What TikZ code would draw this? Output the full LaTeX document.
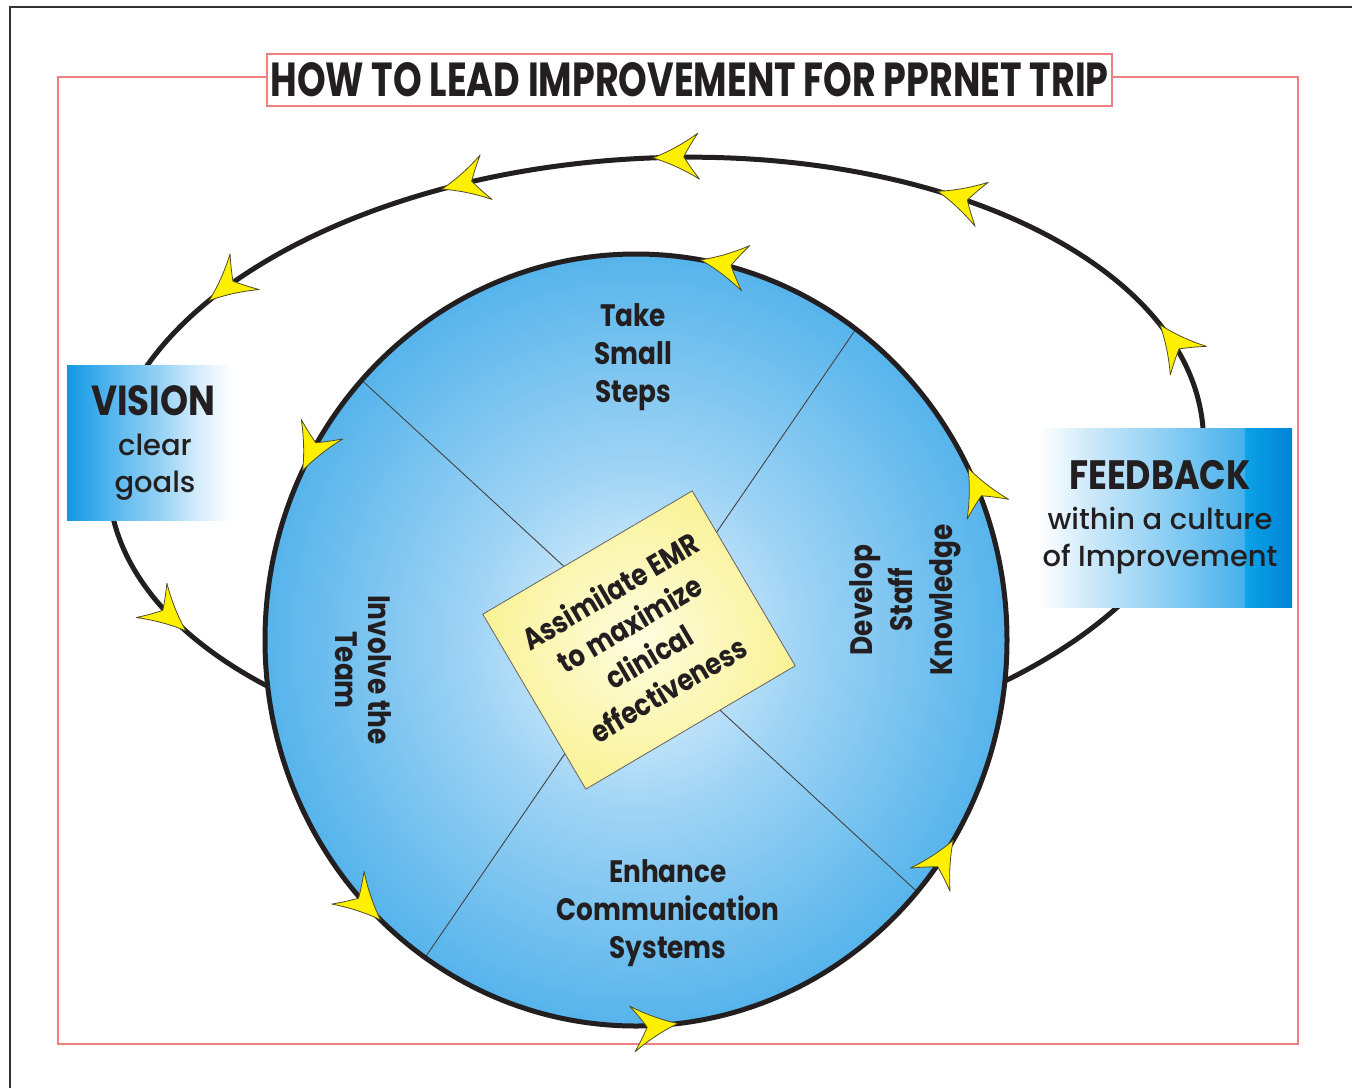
\documentclass[tikz,border=0pt]{standalone}
\usepackage{graphicx}
\usepackage{fontspec}
\setmainfont{Poppins}
\newfontfamily\labfont[FakeStretch=0.85]{Poppins}
\newfontfamily\subfont{Poppins Medium}

\definecolor{ink}{RGB}{35,31,32}
\definecolor{framered}{RGB}{238,128,128}
\definecolor{arrowyellow}{RGB}{255,240,0}
\definecolor{arrowedge}{RGB}{80,76,40}
\definecolor{discin}{RGB}{234,246,254}
\definecolor{discmid}{RGB}{160,212,245}
\definecolor{discout}{RGB}{86,180,235}
\definecolor{notein}{RGB}{255,253,224}
\definecolor{noteout}{RGB}{249,242,150}
\definecolor{visA}{RGB}{18,152,226}
\definecolor{visB}{RGB}{80,180,238}
\definecolor{visC}{RGB}{150,210,245}
\definecolor{visD}{RGB}{214,237,251}
\definecolor{fbA}{RGB}{198,230,249}
\definecolor{fbB}{RGB}{143,208,244}
\definecolor{fbC}{RGB}{72,176,234}
\definecolor{fbD}{RGB}{10,162,230}
\definecolor{fbE}{RGB}{0,132,216}

% light centre fading to saturated blue at the rim
\pgfdeclareradialshading{discshade}{\pgfpoint{0bp}{0bp}}{color(0bp)=(discin); color(11bp)=(discmid); color(25bp)=(discout); color(50bp)=(discout)}
\pgfdeclareradialshading{noteshade}{\pgfpoint{0bp}{0bp}}{color(0bp)=(notein); color(25bp)=(noteout); color(50bp)=(noteout)}
\pgfdeclarehorizontalshading{visionshade}{100bp}{color(0bp)=(visA); color(25bp)=(visA); color(37bp)=(visB); color(52bp)=(visC); color(63bp)=(visD); color(73bp)=(white); color(100bp)=(white)}
\pgfdeclarehorizontalshading{feedshade}{100bp}{color(0bp)=(white); color(28bp)=(white); color(39bp)=(fbA); color(51bp)=(fbB); color(66bp)=(fbC); color(66.4bp)=(fbD); color(75bp)=(fbE); color(100bp)=(fbE)}

\begin{document}
\begin{tikzpicture}[x=1pt,y=-1pt,
  frameline/.style={draw=black!80, line width=2pt},
  redline/.style={draw=framered, line width=1.4pt},
  loopline/.style={draw=ink, line width=5pt},
  rimline/.style={draw=ink, line width=5pt},
  divider/.style={draw=ink!85, line width=0.9pt},
  flowtip/.pic={\path[fill=arrowyellow, draw=arrowedge, line width=0.8pt, line join=round]
     (0,0) .. controls (-18,6) and (-34,15) .. (-46,23)
     .. controls (-38,12) and (-34,5) .. (-31,0)
     .. controls (-34,-5) and (-38,-12) .. (-46,-23)
     .. controls (-34,-15) and (-18,-6) .. (0,0) -- cycle;},
  seglabel/.style={text=ink, align=center, inner sep=0pt, font=\labfont\bfseries\fontsize{31}{38}\selectfont},
  boxtitle/.style={text=ink, inner sep=0pt, font=\labfont\bfseries\fontsize{42}{48}\selectfont},
  boxtext/.style={text=ink, align=center, inner sep=0pt, font=\subfont\fontsize{29}{37}\selectfont},
]
\useasboundingbox (0,0) rectangle (1352,1088);

% page frame
\draw[frameline] (10,1088) -- (10,7) -- (1352,7);

% red frame with the title box set into its top edge
\draw[redline] (58,77) rectangle (1298,1044);
\node[draw=framered, fill=white, line width=1.4pt, minimum width=845, minimum height=52, inner sep=0pt] (titlebox) at (689.5,80) {};
\node[inner sep=0pt, text=ink] (title) at (689.5,80) {\resizebox{838pt}{34pt}{\bfseries HOW TO LEAD IMPROVEMENT FOR PPRNET TRIP}};

% outer improvement loop
\draw[loopline, rotate around={2.8:(656,460)}] (656,460) ellipse [x radius=548, y radius=302];
\foreach \t in {111.5,88.8,57.5,21.5,143.2,209.3} {
  \pgfmathsetmacro\px{656+548*cos(\t)*cos(2.8)-302*sin(\t)*sin(2.8)}
  \pgfmathsetmacro\py{460-548*cos(\t)*sin(2.8)-302*sin(\t)*cos(2.8)}
  \pgfmathsetmacro\dir{atan2(-548*sin(\t)*sin(2.8)+302*cos(\t)*cos(2.8), -548*sin(\t)*cos(2.8)-302*cos(\t)*sin(2.8))}
  \pic[rotate=\dir] at (\px,\py) {flowtip};
}

% side boxes
\node[shading=visionshade, minimum width=173, minimum height=155, inner sep=0pt] (visionbox) at (153.5,442.5) {};
\node[boxtitle] (vision) at (153,401) {VISION};
\node[boxtext] (visiontext) at (155,467) {clear\\goals};

\node[shading=feedshade, minimum width=270, minimum height=179, inner sep=0pt] (feedbox) at (1157,517.5) {};
\node[boxtitle, font=\labfont\bfseries\fontsize{41}{48}\selectfont] (feedback) at (1160,475) {FEEDBACK};
\node[boxtext] (feedtext) at (1160,541) {within a culture\\of Improvement};

% central disc with its four quadrants
\path[shading=discshade] (636,640) ellipse [x radius=371, y radius=386];
\begin{scope}
  \clip (636,640) ellipse [x radius=371, y radius=386];
  \draw[divider] (355,374) -- (925,899);
  \draw[divider] (858,326) -- (422,962);
\end{scope}
\draw[rimline] (636,640) ellipse [x radius=371, y radius=386];
\foreach \t in {80,154,226.5,276.5,328.8,26.5} {
  \pgfmathsetmacro\px{636+371*cos(\t)}
  \pgfmathsetmacro\py{640-386*sin(\t)}
  \pgfmathsetmacro\dir{atan2(386*cos(\t), -371*sin(\t))}
  \pic[rotate=\dir] at (\px,\py) {flowtip};
}

\node[seglabel] (steps) at (633,357) {Take\\Small\\Steps};
\node[seglabel, font=\labfont\bfseries\fontsize{31}{40}\selectfont, rotate=90] (staff) at (905,600) {Develop\\Staff\\Knowledge};
\node[seglabel, font=\labfont\bfseries\fontsize{31}{33}\selectfont, rotate=-90] (team) at (363,670) {Involve the\\Team};
\node[seglabel] (comms) at (668,913) {Enhance\\Communication\\Systems};

% core goal
\node[shading=noteshade, draw=ink!70, line width=0.8pt, rotate=30.5, minimum width=243, minimum height=203, inner sep=0pt,
      text=ink, align=center, font=\labfont\bfseries\fontsize{30}{38}\selectfont] (core) at (639,640)
      {Assimilate EMR\\to maximize\\clinical\\effectiveness};
\end{tikzpicture}
\end{document}
